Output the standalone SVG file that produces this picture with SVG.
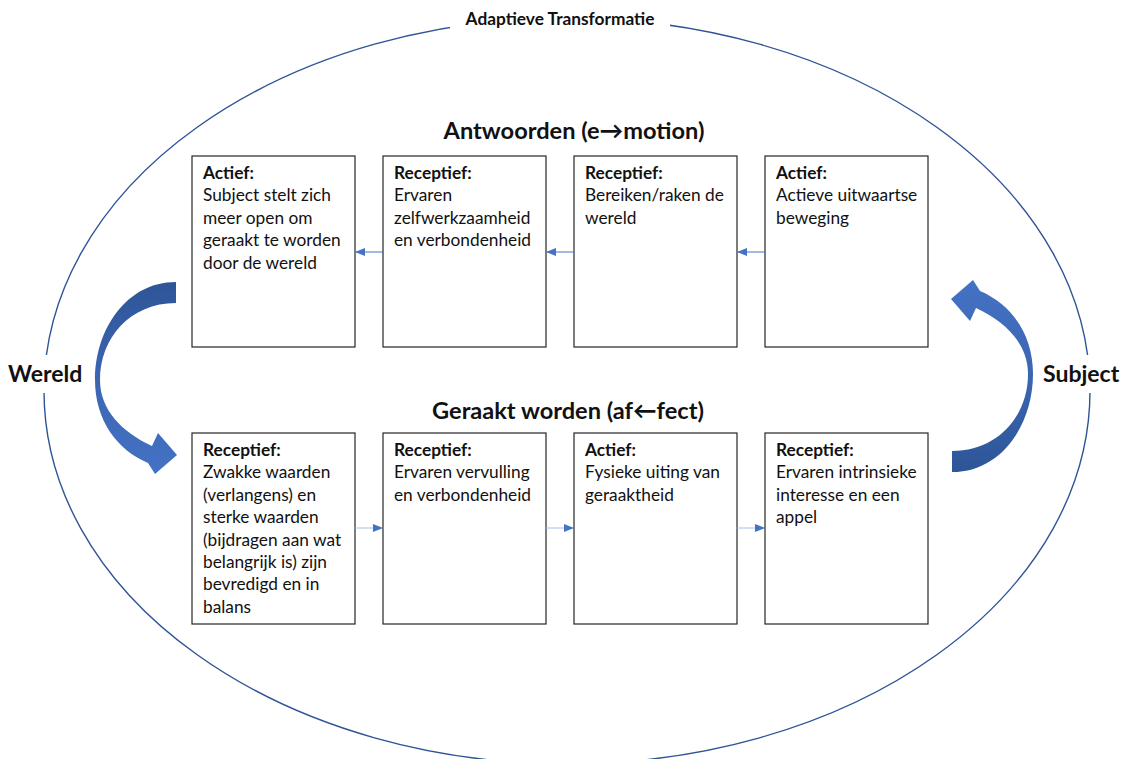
<svg xmlns="http://www.w3.org/2000/svg" width="1123" height="759" viewBox="0 0 1123 759">
<style>
.box{fill:#fff;stroke:#262626;stroke-width:1.2}
.t{font-family:Lato,"Liberation Sans",sans-serif;font-size:17.3px;fill:#111}
.b{font-weight:bold}
.h{font-family:Lato,"Liberation Sans",sans-serif;font-size:23.6px;font-weight:bold;fill:#111;text-anchor:middle}
.s{font-family:Lato,"Liberation Sans",sans-serif;font-size:23px;font-weight:bold;fill:#111}
.lt{stroke:#4472C4;stroke-width:1}
.lb{stroke:#A8BFE6;stroke-width:1}
</style>
<defs>
<marker id="ah" markerWidth="10" markerHeight="8" refX="9" refY="4" orient="auto" markerUnits="userSpaceOnUse">
<path d="M0,0 L10,4 L0,8 Z" fill="#4472C4"/>
</marker>
<linearGradient id="g1" x1="0" y1="0" x2="0" y2="1">
<stop offset="0" stop-color="#2E5597"/>
<stop offset="0.45" stop-color="#3A64B0"/>
<stop offset="1" stop-color="#4472C4"/>
</linearGradient>
<path id="carrow" d="M176,282 C126,282 95,330 95,380 C95,420 117,450 148,463 L155,474 L177,455 L158,433 L152,446 C122,432 100,410 100,380 C100,338 130,303 176,303 Z"/>
</defs>
<rect width="1123" height="759" fill="#fff"/>
<ellipse cx="567" cy="391" rx="523" ry="373" fill="none" stroke="#2F5597" stroke-width="1.4"/>
<g id="title">
<rect x="450" y="0" width="220" height="35" fill="#fff"/>
<text x="560" y="25" style="font-family:Lato,'Liberation Sans',sans-serif;font-size:17.3px;font-weight:bold;fill:#111;text-anchor:middle">Adaptieve Transformatie</text>
</g>
<g id="wereld">
<rect x="0" y="355" width="97" height="38" fill="#fff"/>
<text x="8" y="382" class="s">Wereld</text>
</g>
<g id="subject">
<rect x="1032" y="355" width="91" height="38" fill="#fff"/>
<text x="1043" y="382" class="s">Subject</text>
</g>
<g id="heading-antwoorden"><text x="574" y="139" class="h">Antwoorden (e→motion)</text></g>
<g id="heading-geraakt"><text x="568" y="419" class="h">Geraakt worden (af←fect)</text></g>
<g id="curved-left"><use href="#carrow" fill="url(#g1)"/></g>
<g id="curved-right"><use href="#carrow" fill="url(#g1)" transform="rotate(180 564 377)"/></g>
<g id="n1">
<rect class="box" x="192" y="156" width="163" height="191"/>
<text class="t" x="203" y="179"><tspan class="b">Actief:</tspan><tspan x="203" dy="22.4">Subject stelt zich</tspan><tspan x="203" dy="22.4">meer open om</tspan><tspan x="203" dy="22.4">geraakt te worden</tspan><tspan x="203" dy="22.4">door de wereld</tspan></text>
</g>
<g id="n2">
<rect class="box" x="383" y="156" width="163" height="191"/>
<text class="t" x="394" y="179"><tspan class="b">Receptief:</tspan><tspan x="394" dy="22.4">Ervaren</tspan><tspan x="394" dy="22.4">zelfwerkzaamheid</tspan><tspan x="394" dy="22.4">en verbondenheid</tspan></text>
</g>
<g id="n3">
<rect class="box" x="574" y="156" width="163" height="191"/>
<text class="t" x="585" y="179"><tspan class="b">Receptief:</tspan><tspan x="585" dy="22.4">Bereiken/raken de</tspan><tspan x="585" dy="22.4">wereld</tspan></text>
</g>
<g id="n4">
<rect class="box" x="765" y="156" width="163" height="191"/>
<text class="t" x="776" y="179"><tspan class="b">Actief:</tspan><tspan x="776" dy="22.4">Actieve uitwaartse</tspan><tspan x="776" dy="22.4">beweging</tspan></text>
</g>
<g id="n5">
<rect class="box" x="192" y="433" width="163" height="191"/>
<text class="t" x="203" y="456"><tspan class="b">Receptief:</tspan><tspan x="203" dy="22.4">Zwakke waarden</tspan><tspan x="203" dy="22.4">(verlangens) en</tspan><tspan x="203" dy="22.4">sterke waarden</tspan><tspan x="203" dy="22.4">(bijdragen aan wat</tspan><tspan x="203" dy="22.4">belangrijk is) zijn</tspan><tspan x="203" dy="22.4">bevredigd en in</tspan><tspan x="203" dy="22.4">balans</tspan></text>
</g>
<g id="n6">
<rect class="box" x="383" y="433" width="163" height="191"/>
<text class="t" x="394" y="456"><tspan class="b">Receptief:</tspan><tspan x="394" dy="22.4">Ervaren vervulling</tspan><tspan x="394" dy="22.4">en verbondenheid</tspan></text>
</g>
<g id="n7">
<rect class="box" x="574" y="433" width="163" height="191"/>
<text class="t" x="585" y="456"><tspan class="b">Actief:</tspan><tspan x="585" dy="22.4">Fysieke uiting van</tspan><tspan x="585" dy="22.4">geraaktheid</tspan></text>
</g>
<g id="n8">
<rect class="box" x="765" y="433" width="163" height="191"/>
<text class="t" x="776" y="456"><tspan class="b">Receptief:</tspan><tspan x="776" dy="22.4">Ervaren intrinsieke</tspan><tspan x="776" dy="22.4">interesse en een</tspan><tspan x="776" dy="22.4">appel</tspan></text>
</g>
<g id="connectors">
<line class="lt" x1="383" y1="252" x2="356" y2="252" marker-end="url(#ah)"/>
<line class="lt" x1="574" y1="252" x2="547" y2="252" marker-end="url(#ah)"/>
<line class="lt" x1="765" y1="252" x2="738" y2="252" marker-end="url(#ah)"/>
<line class="lb" x1="355" y1="528" x2="382" y2="528" marker-end="url(#ah)"/>
<line class="lb" x1="546" y1="528" x2="573" y2="528" marker-end="url(#ah)"/>
<line class="lb" x1="737" y1="528" x2="764" y2="528" marker-end="url(#ah)"/>
</g>
</svg>
